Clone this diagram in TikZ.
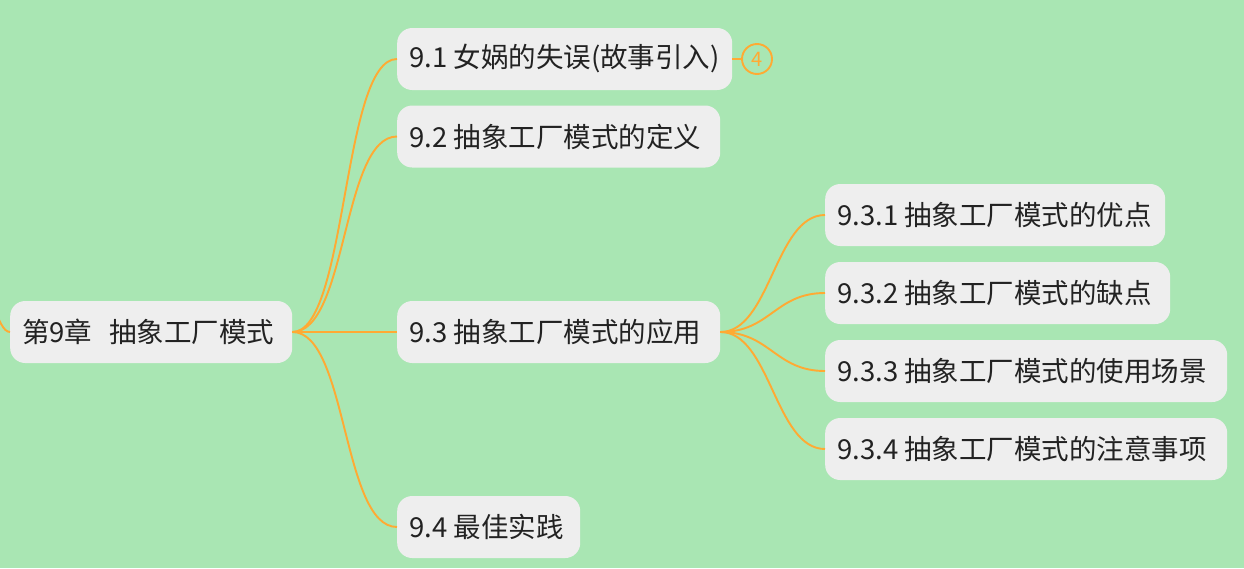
\documentclass[tikz,border=0pt]{standalone}
\usepackage{fontspec}
\setmainfont{Noto Sans CJK SC}
\definecolor{bg}{HTML}{A9E6B3}
\definecolor{boxfill}{HTML}{EEEEEE}
\definecolor{lineor}{HTML}{FFAA33}
\definecolor{txt}{HTML}{222222}
\tikzset{
  topic/.style={rounded corners=15pt, fill=boxfill, minimum height=62pt, inner xsep=12pt, inner ysep=0pt,
    anchor=west, text=txt, font=\fontsize{27.5pt}{31pt}\selectfont},
  link/.style={draw=lineor, line width=1.9pt},
  badge/.style={circle, draw=lineor, line width=1.9pt, minimum size=30pt, inner sep=0pt, text=lineor,
    font=\fontsize{20pt}{21pt}\selectfont}
}
\newcommand{\tbox}[2]{\makebox[#1][l]{#2}}
\begin{document}
\begin{tikzpicture}[x=1pt,y=-1pt]
\fill[bg] (0,0) rectangle (1244,568);
\useasboundingbox (0,0) rectangle (1244,568);
\clip (0,0) rectangle (1244,568);
\coordinate (parent) at (-70,150);
\node[topic] (root) at (10,332) {\tbox{258pt}{第9章\hspace{0.62em}抽象工厂模式}};
\node[topic] (n1) at (397,59) {\tbox{311pt}{9.1 女娲的失误(故事引入)}};
\node[topic] (n2) at (397,136.5) {\tbox{299pt}{9.2 抽象工厂模式的定义}};
\node[topic] (n3) at (397,332) {\tbox{299pt}{9.3 抽象工厂模式的应用}};
\node[topic] (n4) at (397,527) {\tbox{159pt}{9.4 最佳实践}};
\node[topic] (n31) at (825,215) {\tbox{316pt}{9.3.1 抽象工厂模式的优点}};
\node[topic] (n32) at (825,293) {\tbox{321pt}{9.3.2 抽象工厂模式的缺点}};
\node[topic] (n33) at (825,371) {\tbox{378pt}{9.3.3 抽象工厂模式的使用场景}};
\node[topic] (n34) at (825,449) {\tbox{378pt}{9.3.4 抽象工厂模式的注意事项}};
\node[badge] (b1) at (757,59) {4};
\draw[link] (parent) .. controls +(45,0) and +(-25,0) .. (root.west);
\foreach \c in {n1,n2,n3,n4}
  \draw[link] (root.east) .. controls +(55,0) and +(-55,0) .. (\c.west);
\foreach \c in {n31,n32,n33,n34}
  \draw[link] (n3.east) .. controls +(50,0) and +(-50,0) .. (\c.west);
\draw[link] (n1.east) -- (b1.west);
\end{tikzpicture}
\end{document}
